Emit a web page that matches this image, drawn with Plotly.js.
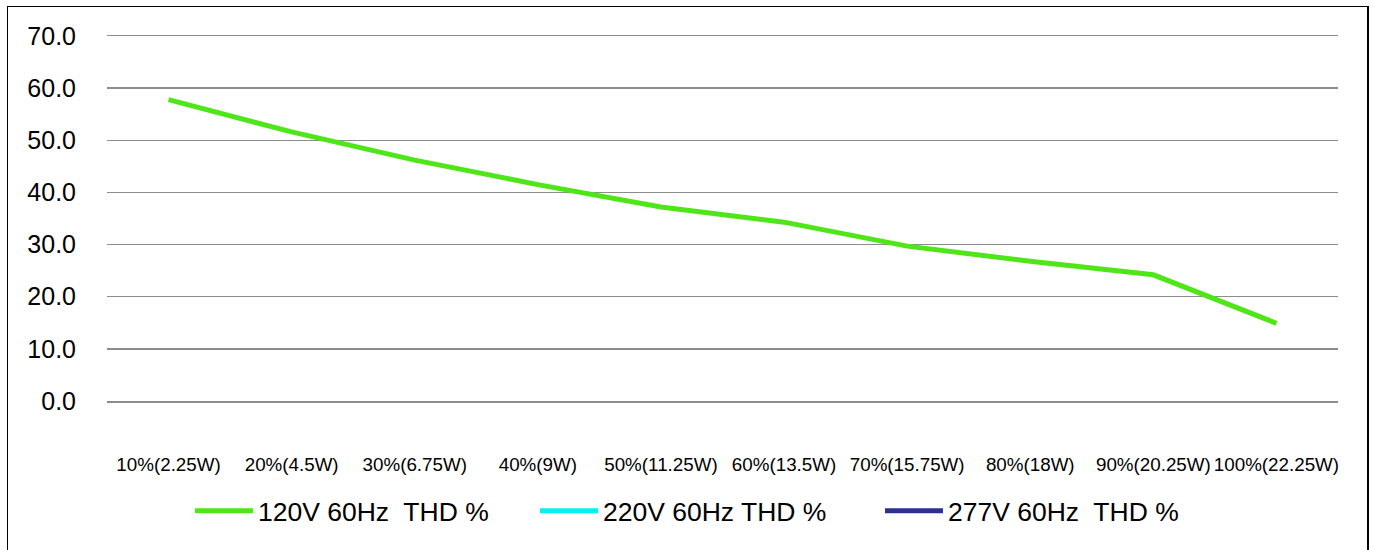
<!DOCTYPE html>
<html>
<head>
<meta charset="utf-8">
<script src="https://cdn.plot.ly/plotly-3.0.1.min.js"></script>
<style>
  html, body { margin: 0; padding: 0; background: #fff; }
  #wrap { position: relative; width: 1373px; height: 550px; overflow: hidden; }
  #chart { position: absolute; left: 0; top: 0; width: 1373px; height: 550px; }
  #frame { position: absolute; left: 7px; top: 6px; width: 1359px; height: 600px;
           border: 1.5px solid #000; border-right-width: 2px; pointer-events: none; }
</style>
</head>
<body>
<div id="wrap">
  <div id="chart"></div>
  <div id="frame"></div>
</div>
<script>
const categories = ["10%(2.25W)", "20%(4.5W)", "30%(6.75W)", "40%(9W)", "50%(11.25W)",
                    "60%(13.5W)", "70%(15.75W)", "80%(18W)", "90%(20.25W)", "100%(22.25W)"];
const thd120 = [57.8, 51.6, 46.2, 41.5, 37.2, 34.3, 29.7, 26.8, 24.2, 14.9];
const thd220 = [null, null, null, null, null, null, null, null, null, null];
const thd277 = [null, null, null, null, null, null, null, null, null, null];
const seriesNames = ["120V 60Hz\u00a0 THD %", "220V 60Hz THD %", "277V 60Hz\u00a0 THD %"];
const yTicks = [0, 10, 20, 30, 40, 50, 60, 70];
const yTickText = ["0.0", "10.0", "20.0", "30.0", "40.0", "50.0", "60.0", "70.0"];

const font = "Liberation Sans, Arial, sans-serif";

const traces = [
  { x: categories, y: thd120, name: seriesNames[0], type: "scatter", mode: "lines",
    line: { color: "#4FE619", width: 5 } },
  { x: categories, y: thd220, name: seriesNames[1], type: "scatter", mode: "lines",
    line: { color: "#00F2F2", width: 5 } },
  { x: categories, y: thd277, name: seriesNames[2], type: "scatter", mode: "lines",
    line: { color: "#2E3192", width: 5 } }
];

const layout = {
  width: 1373, height: 550,
  margin: { l: 107, r: 35, t: 36, b: 149 },
  paper_bgcolor: "#fff", plot_bgcolor: "#fff",
  font: { family: font, color: "#000" },
  showlegend: true,
  xaxis: {
    type: "category",
    range: [-0.5, categories.length - 0.5],
    showgrid: false, zeroline: false,
    showline: true, mirror: true, linecolor: "#8c8c8c", linewidth: 1.5,
    ticks: "", tickfont: { size: 18.8, family: font },
    ticklabelstandoff: 46,
    tickangle: 0
  },
  yaxis: {
    range: [0, 70],
    tickvals: yTicks, ticktext: yTickText,
    showgrid: true, gridcolor: "#8c8c8c", gridwidth: 1.5,
    zeroline: false, showline: false, ticks: "",
    tickfont: { size: 25, family: font },
    ticklabelstandoff: 30
  },
  legend: {
    orientation: "h",
    xref: "container", yref: "container",
    x: 0.5 + 21 / 1373, xanchor: "center",
    y: 1 - 511 / 550, yanchor: "middle",
    font: { size: 26.5, family: font },
    itemwidth: 58,
    entrywidth: 272,
    bgcolor: "rgba(0,0,0,0)"
  }
};

Plotly.newPlot("chart", traces, layout, { staticPlot: true, displayModeBar: false });
</script>
</body>
</html>
